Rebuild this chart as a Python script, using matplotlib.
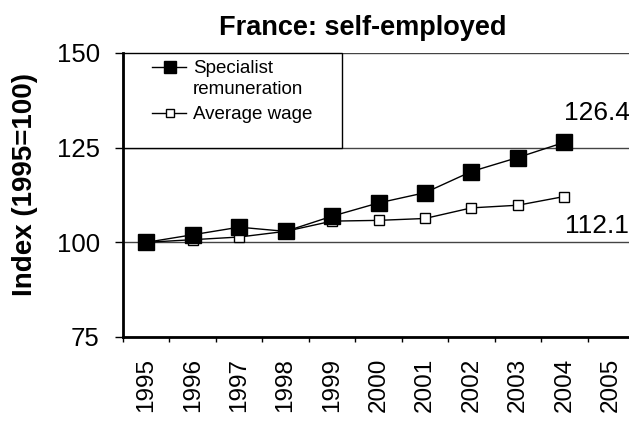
import numpy as np
import matplotlib
matplotlib.use("Agg")
from matplotlib import pyplot as plt
from matplotlib.patches import Rectangle
from matplotlib.lines import Line2D

plt.rcParams['font.family'] = ['Liberation Sans', 'DejaVu Sans']

years = ["1995", "1996", "1997", "1998", "1999", "2000",
         "2001", "2002", "2003", "2004", "2005"]
specialist = [100.0, 102.0, 104.0, 102.9, 106.9, 110.4, 113.1, 118.7, 122.4, 126.4]
avg_wage = [100.0, 100.7, 101.4, 102.9, 105.6, 105.8, 106.3, 109.1, 109.8, 112.1]
y_ticks = [75, 100, 125, 150]

W, H = 629, 422
fig = plt.figure(figsize=(W / 100, H / 100), dpi=100)
ax = fig.add_axes([123 / W, 1 - 337 / H, (634 - 123) / W, (337 - 53) / H])

x = np.arange(len(specialist))
ax.plot(x, avg_wage, color="black", lw=1, marker="s", ms=7.5,
        mfc="white", mec="black", mew=1, zorder=4)
ax.plot(x, specialist, color="black", lw=1, marker="s", ms=11,
        mfc="black", mec="black", zorder=5)

ax.set_xlim(-0.5, len(years) - 0.5)
ax.set_ylim(75, 150)
ax.set_yticks(y_ticks)
ax.tick_params(axis="y", labelsize=18.5, length=5.8, width=1, pad=11, direction="out")
ax.set_xticks(np.arange(len(years)))
ax.set_xticklabels(years, rotation=90, fontsize=17.5)
ax.set_xticks(np.arange(len(years) + 1) - 0.5, minor=True)
ax.tick_params(axis="x", which="major", length=0, pad=15)
ax.tick_params(axis="x", which="minor", length=3.6, width=1, direction="out")

ax.yaxis.grid(True, color="#444444", lw=1)
ax.set_axisbelow(True)
for s in ["top", "right"]:
    ax.spines[s].set_visible(False)
for s in ["left", "bottom"]:
    ax.spines[s].set_linewidth(2)
    ax.spines[s].set_zorder(6)

# legend box (Excel style)
ax.add_patch(Rectangle((0, 2 / 3), 219 / 511, 1 / 3, transform=ax.transAxes,
                       facecolor="white", edgecolor="black", lw=1, zorder=3,
                       clip_on=False))
ax.add_line(Line2D([0.057, 0.091, 0.123], [0.951, 0.951, 0.951], transform=ax.transAxes,
                   color="black", lw=1, marker="s", ms=8, mfc="black",
                   markevery=[1], zorder=4))
ax.add_line(Line2D([0.057, 0.091, 0.123], [0.789, 0.789, 0.789], transform=ax.transAxes,
                   color="black", lw=1, marker="s", ms=6, mfc="white", mec="black",
                   markevery=[1], zorder=4))
ax.text(0.137, 0.944, "Specialist", transform=ax.transAxes, fontsize=13.5,
        va="center", ha="left", zorder=4)
ax.text(0.137, 0.873, "remuneration", transform=ax.transAxes, fontsize=13.5,
        va="center", ha="left", zorder=4)
ax.text(0.137, 0.782, "Average wage", transform=ax.transAxes, fontsize=13.5,
        va="center", ha="left", zorder=4)

ax.annotate(f"{specialist[-1]:.1f}", (x[-1], specialist[-1]), xytext=(23.8, 21),
            textcoords="offset points", ha="center", va="center", fontsize=19)
ax.annotate(f"{avg_wage[-1]:.1f}", (x[-1], avg_wage[-1]), xytext=(23.8, -21),
            textcoords="offset points", ha="center", va="center", fontsize=19)

fig.text(363 / W, 1 - 35 / H, "France: self-employed", ha="center", va="baseline",
         fontsize=19.5, fontweight="bold")
fig.text(25 / W, 1 - 185 / H, "Index (1995=100)", rotation=90, ha="center",
         va="center", fontsize=20, fontweight="bold")

fig.savefig("out.png", dpi=100)
